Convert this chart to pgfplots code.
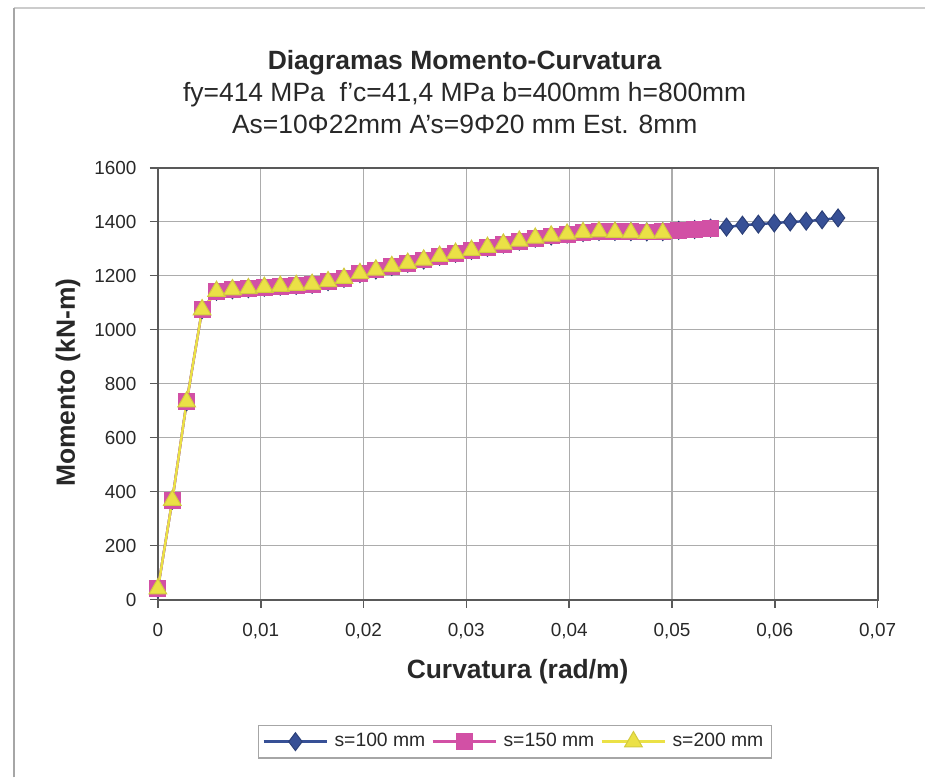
\documentclass[border=0pt]{standalone}
\usepackage{fontspec}
\setmainfont{Liberation Sans}
\usepackage{pgfplots}
\usepackage{pgfplotstable}
\pgfplotsset{compat=1.18}

\definecolor{sblue}{RGB}{55,80,150}
\definecolor{spink}{RGB}{210,80,165}
\definecolor{syellow}{RGB}{235,225,70}
\definecolor{txt}{RGB}{40,40,40}

% s = 100 mm
\pgfplotstableread{
x y
0 40
0.0014 368
0.0028 733
0.0043 1074
0.0057 1142
0.00725 1148
0.0088 1152
0.01035 1157
0.0119 1161
0.01345 1164
0.015 1168
0.01655 1178
0.0181 1190
0.01965 1208
0.0212 1221
0.02275 1234
0.0243 1246
0.02585 1258
0.0274 1272
0.02895 1283
0.0305 1294
0.03205 1305
0.0336 1317
0.03515 1328
0.0367 1339
0.03825 1347
0.0398 1354
0.04135 1360
0.0429 1364
0.04445 1364
0.046 1363
0.04755 1362
0.0491 1363
0.05065 1368
0.0522 1371
0.05375 1376
0.0553 1380
0.05685 1387
0.0584 1391
0.05995 1395
0.0615 1399
0.06305 1402
0.0646 1407
0.06615 1414
}\sone

% s = 150 mm
\pgfplotstableread{
x y
0 40
0.0014 368
0.0028 733
0.0043 1074
0.0057 1142
0.00725 1148
0.0088 1152
0.01035 1157
0.0119 1161
0.01345 1164
0.015 1168
0.01655 1178
0.0181 1190
0.01965 1208
0.0212 1221
0.02275 1234
0.0243 1246
0.02585 1258
0.0274 1272
0.02895 1283
0.0305 1294
0.03205 1305
0.0336 1317
0.03515 1328
0.0367 1339
0.03825 1347
0.0398 1354
0.04135 1360
0.0429 1364
0.04445 1364
0.046 1363
0.04755 1362
0.0491 1363
0.05065 1368
0.0522 1371
0.05375 1376
}\stwo

% s = 200 mm
\pgfplotstableread{
x y
0 40
0.0014 368
0.0028 733
0.0043 1074
0.0057 1142
0.00725 1148
0.0088 1152
0.01035 1157
0.0119 1161
0.01345 1164
0.015 1168
0.01655 1178
0.0181 1190
0.01965 1208
0.0212 1221
0.02275 1234
0.0243 1246
0.02585 1258
0.0274 1272
0.02895 1283
0.0305 1294
0.03205 1305
0.0336 1317
0.03515 1328
0.0367 1339
0.03825 1347
0.0398 1354
0.04135 1360
0.0429 1363
0.04445 1361
0.046 1359
0.04755 1357
0.0491 1358
}\sthree

\begin{document}
\begin{tikzpicture}[x=0.01728cm, y=0.01728cm]
  \begin{axis}[
    at={(0,0)}, anchor=south west,
    scale only axis,
    width=12.44cm, height=7.465cm,
    xmin=0, xmax=0.07, ymin=0, ymax=1600,
    xtick={0,0.01,0.02,0.03,0.04,0.05,0.06,0.07},
    ytick={0,200,400,600,800,1000,1200,1400,1600},
    scaled x ticks=false,
    tick pos=left,
    grid=major,
    major grid style={gray!65, line width=0.6pt},
    axis line style={gray!70!black, line width=1pt},
    tick align=outside,
    major tick length=4pt,
    tick style={gray!70!black, line width=0.8pt},
    /pgf/number format/assume math mode=true,
    ticklabel style={font=\fontsize{9.3}{11}\selectfont, text=txt},
    xticklabel style={yshift=-4pt, /pgf/number format/.cd, fixed, use comma, precision=2, /tikz/.cd},
    yticklabel style={xshift=-3pt, /pgf/number format/.cd, fixed, 1000 sep={}, /tikz/.cd},
    legend columns=3,
    legend style={
      at={(0.496,-0.329)}, anchor=center,
      draw=gray!70, line width=0.6pt,
      font=\fontsize{9.5}{11}\selectfont, text=txt,
      column sep=1pt, inner xsep=2pt, inner ysep=2pt,
    },
    legend image code/.code={%
      \draw[mark repeat=2, mark phase=2, #1]
        plot coordinates {(0cm,0cm) (0.55cm,0cm) (1.1cm,0cm)};},
  ]
    \addplot[sblue, line width=1.2pt, mark=diamond*, mark size=4.4pt,
      mark options={fill=sblue, draw=sblue!80!black, line width=0.5pt}]
      table {\sone};
    \addplot[spink, line width=1.2pt, mark=square*, mark size=3.9pt,
      mark options={fill=spink, draw=spink, line width=0.5pt}]
      table {\stwo};
    \addplot[syellow, line width=1.2pt, mark=triangle*, mark size=5pt,
      mark options={fill=syellow, draw=syellow!90!black, line width=0.5pt}]
      table {\sthree};
    \legend{s=100 mm, s=150 mm, s=200 mm}
  \end{axis}

  \node[font=\fontsize{13}{15.7}\selectfont, align=center, text=txt]
    at (307,508)
    {\textbf{Diagramas Momento-Curvatura}\\
     fy=414 MPa\ \ f'c=41,4 MPa b=400mm h=800mm\\
     As=10Φ22mm A's=9Φ20 mm Est. 8mm};
  \node[rotate=90, font=\bfseries\fontsize{13}{15}\selectfont, text=txt]
    at (-90,217) {Momento (kN-m)};
  \node[font=\bfseries\fontsize{13}{15}\selectfont, text=txt]
    at (360,-72) {Curvatura (rad/m)};

  \draw[gray!40, line width=0.6pt] (-144,592) -- (768,592);
  \draw[gray!70, line width=0.8pt] (-144,-178) -- (-144,592);
  \path (-158,-178) rectangle (768,600);
\end{tikzpicture}
\end{document}
